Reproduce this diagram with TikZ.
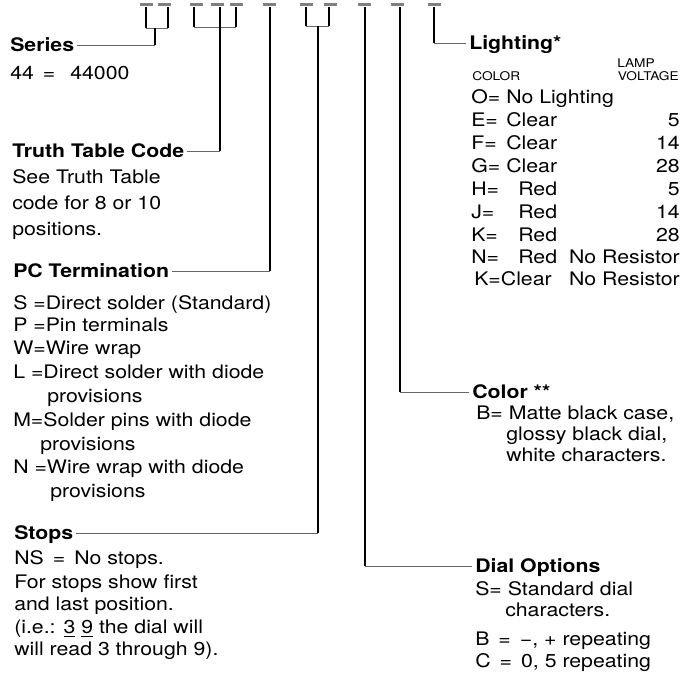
\documentclass[tikz,border=0pt]{standalone}
\usepackage{fontspec}
\setmainfont{TeX Gyre Heros}[FakeStretch=1.14]
\begin{document}
\begin{tikzpicture}[x=0.75pt,y=-0.75pt,
  txt/.style={anchor=west,inner sep=0pt,text height=10pt,text depth=0pt,font=\fontsize{14}{16}\selectfont},
  hd/.style={txt,font=\fontsize{14}{16}\selectfont\bfseries},
  sm/.style={anchor=west,inner sep=0pt,text height=6.5pt,text depth=0pt,font=\fontsize{9}{10}\selectfont},
  rt/.style={txt,anchor=east},
  vline/.style={line width=1.1pt,black},
  lead/.style={line width=0.6pt,black!60,shorten >=2pt},
  fork/.style={line width=0.6pt,black!60},
  slot/.style={line width=1.8pt,black!50}]
\useasboundingbox (0,0) rectangle (687,676);

% digit slots at the top
\foreach \c in {146.5,164,196,217,236,269,306,330,364,397,434}
  \draw[slot] (\c-6.5,4.5) -- (\c+6.5,4.5);
\foreach \x/\n in {146/a,168/b,194/c,220/d,236/e,270/f,306/g,329/h,365/i,400/j,434/k}
  \coordinate (s\n) at (\x,7);

% junctions
\coordinate (ja) at (146,28); \coordinate (jb) at (168,28); \coordinate (jab) at (155,28);
\coordinate (jc) at (194,27); \coordinate (je) at (236,27); \coordinate (jd) at (220,27);
\coordinate (jg) at (306,26); \coordinate (jh) at (329,26); \coordinate (jgh) at (318,26);

% left column
\node[hd] (series) at (10,45) {Series};
\node[txt] (s1) at (10,73) {44\,\ = \ \,44000};
\node[hd] (truth) at (12,151) {Truth Table Code};
\node[txt] (t1) at (12,177) {See Truth Table};
\node[txt] (t2) at (12,203) {code for 8 or 10};
\node[txt] (t3) at (12,229) {positions.};
\node[hd] (pc) at (13,271) {PC Termination};
\node[txt] (p1) at (13,303) {S =Direct solder (Standard)};
\node[txt] (p2) at (13,325) {P =Pin terminals};
\node[txt] (p3) at (13,348) {W=Wire wrap};
\node[txt] (p4) at (13,372) {L =Direct solder with diode};
\node[txt] (p5) at (47,396) {provisions};
\node[txt] (p6) at (13,420) {M=Solder pins with diode};
\node[txt] (p7) at (40,444) {provisions};
\node[txt] (p8) at (13,467) {N =Wire wrap with diode};
\node[txt] (p9) at (50,491) {provisions};
\node[hd] (stops) at (14,533) {Stops};
\node[txt] (n1) at (14,558) {NS \,=\, No stops.};
\node[txt] (n2) at (14,582) {For stops show first};
\node[txt] (n3) at (14,604) {and last position.};
\node[txt] (n4) at (14,627) {(i.e.: \underline{3} \underline{9} the dial will};
\node[txt] (n5) at (14,649) {will read 3 through 9).};

% right column: lighting
\node[hd] (light) at (469,43) {Lighting*};
\node[sm,anchor=center] (lamp) at (636,63) {LAMP};
\node[sm] (colh) at (472,76) {COLOR};
\node[sm,anchor=east] (volt) at (679,76) {VOLTAGE};
\node[txt] (lo) at (471,97) {O=}; \node[txt] (lod) at (506,97) {No Lighting};
\node[txt] (le) at (471,120) {E=}; \node[txt] (led) at (506,120) {Clear}; \node[rt] (lev) at (680,120) {5};
\node[txt] (lf) at (471,143) {F=}; \node[txt] (lfd) at (506,143) {Clear}; \node[rt] (lfv) at (680,143) {14};
\node[txt] (lg) at (471,166) {G=}; \node[txt] (lgd) at (506,166) {Clear}; \node[rt] (lgv) at (680,166) {28};
\node[txt] (lh) at (471,189) {H=}; \node[txt] (lhd) at (518,189) {Red}; \node[rt] (lhv) at (680,189) {5};
\node[txt] (lj) at (471,212) {J=}; \node[txt] (ljd) at (518,212) {Red}; \node[rt] (ljv) at (680,212) {14};
\node[txt] (lk) at (471,235) {K=}; \node[txt] (lkd) at (518,235) {Red}; \node[rt] (lkv) at (680,235) {28};
\node[txt] (ln) at (471,257) {N=}; \node[txt] (lnd) at (518,257) {Red}; \node[rt] (lnv) at (680,257) {No Resistor};
\node[txt] (lk2) at (474,279) {K=Clear}; \node[rt] (lk2v) at (680,279) {No Resistor};

% color
\node[hd] (color) at (472,392) {Color **};
\node[txt] (c1) at (476,413) {B= Matte black case,};
\node[txt] (c2) at (506,434) {glossy black dial,};
\node[txt] (c3) at (506,455) {white characters.};

% dial options
\node[hd] (dial) at (475,566) {Dial Options};
\node[txt] (d1) at (475,589) {S= Standard dial};
\node[txt] (d2) at (505,610) {characters.};
\node[txt] (d3) at (475,639) {B \,=\, −, + repeating};
\node[txt] (d4) at (475,661) {C \,=\, 0, 5 repeating};

% connectors
\draw[vline] (sa) -- (ja); \draw[vline] (sb) -- (jb);
\draw[fork] (ja) -- (jb);
\draw[vline] (jab) -- (155,45);
\draw[lead] (155,45) -- (series.east);
\draw[vline] (sc) -- (jc); \draw[vline] (se) -- (je);
\draw[fork] (jc) -- (je);
\draw[vline] (sd) -- (sd |- truth.east);
\draw[lead] (sd |- truth.east) -- (truth.east);
\draw[vline] (sf) -- (sf |- pc.east);
\draw[lead] (sf |- pc.east) -- (pc.east);
\draw[vline] (sg) -- (jg); \draw[vline] (sh) -- (jh);
\draw[fork] (jg) -- (jh);
\draw[vline] (jgh) -- (jgh |- stops.east);
\draw[lead] (jgh |- stops.east) -- (stops.east);
\draw[vline] (si) -- (si |- dial.west);
\draw[lead] (si |- dial.west) -- (dial.west);
\draw[vline] (sj) -- (sj |- color.west);
\draw[lead] (sj |- color.west) -- (color.west);
\draw[vline] (sk) -- (sk |- light.west);
\draw[lead] (sk |- light.west) -- (light.west);
\end{tikzpicture}
\end{document}
